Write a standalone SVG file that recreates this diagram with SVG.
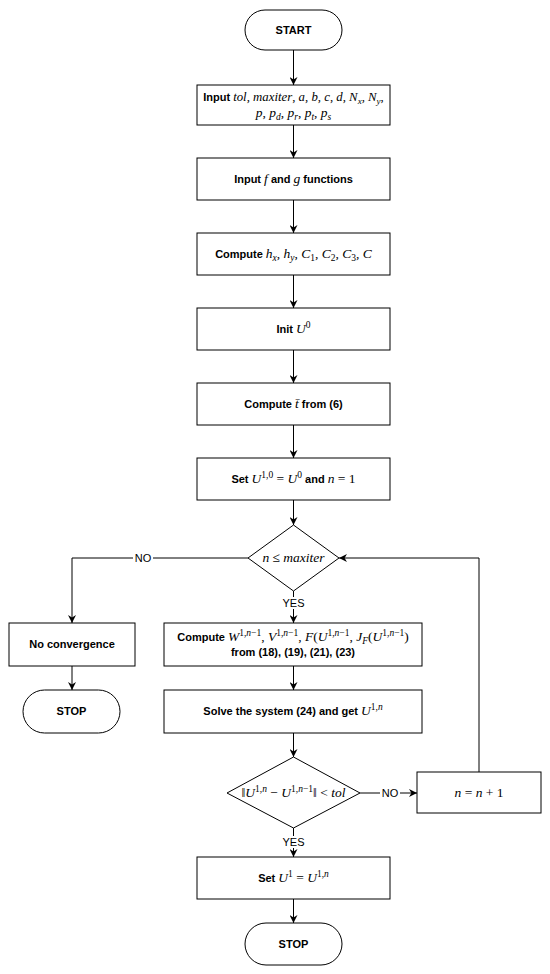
<svg xmlns="http://www.w3.org/2000/svg" width="550" height="974" viewBox="0 0 550 974">
<style>
.shape { fill: #fff; stroke: #000; stroke-width: 1; }
.edge { fill: none; stroke: #000; stroke-width: 1; }
.b { font-family: "Liberation Sans", Arial, sans-serif; font-weight: bold; font-size: 11px; fill: #000; text-anchor: middle; }
.lbl { font-family: "Liberation Sans", Arial, sans-serif; font-size: 11px; fill: #000; text-anchor: middle; }
.mi { font-family: "Liberation Serif", "Times New Roman", serif; font-style: italic; font-weight: normal; font-size: 13.5px; }
.mn { font-family: "Liberation Serif", "Times New Roman", serif; font-style: normal; font-weight: normal; font-size: 13.5px; }
.sc { font-size: 9.5px; }
.sm .mi, .sm .mn { font-size: 12.8px; }
.sm .sc { font-size: 9px; }
</style>
<defs>
<marker id="arr" viewBox="0 0 10 10" refX="10" refY="5" markerWidth="8" markerHeight="8" markerUnits="userSpaceOnUse" orient="auto">
<path d="M0,0 L10,5 L0,10 L3,5 z" fill="#000"/>
</marker>
</defs>

<g id="edges">
<path class="edge" d="M293.5,50 V85" marker-end="url(#arr)"/>
<path class="edge" d="M293.5,125 V158" marker-end="url(#arr)"/>
<path class="edge" d="M293.5,200 V233" marker-end="url(#arr)"/>
<path class="edge" d="M293.5,275 V308" marker-end="url(#arr)"/>
<path class="edge" d="M293.5,350 V383" marker-end="url(#arr)"/>
<path class="edge" d="M293.5,425 V458" marker-end="url(#arr)"/>
<path class="edge" d="M293.5,500 V525" marker-end="url(#arr)"/>
<path class="edge" d="M248,558 H72 V623" marker-end="url(#arr)"/>
<path class="edge" d="M293.5,591 V623" marker-end="url(#arr)"/>
<path class="edge" d="M72,666 V690" marker-end="url(#arr)"/>
<path class="edge" d="M293.5,666 V690" marker-end="url(#arr)"/>
<path class="edge" d="M293.5,733 V757" marker-end="url(#arr)"/>
<path class="edge" d="M360,793 H417" marker-end="url(#arr)"/>
<path class="edge" d="M293.5,828 V857" marker-end="url(#arr)"/>
<path class="edge" d="M293.5,899 V923" marker-end="url(#arr)"/>
<path class="edge" d="M479,772 V558 H339" marker-end="url(#arr)"/>
<rect x="133" y="552" width="20" height="12" fill="#fff"/>
<text class="lbl" x="143" y="562">NO</text>
<rect x="283" y="597" width="21" height="12" fill="#fff"/>
<text class="lbl" x="293.5" y="607">YES</text>
<rect x="380" y="787" width="20" height="12" fill="#fff"/>
<text class="lbl" x="390" y="797">NO</text>
<rect x="283" y="836" width="21" height="12" fill="#fff"/>
<text class="lbl" x="293.5" y="846">YES</text>
</g>

<g id="start">
<rect class="shape" x="245" y="10" width="97" height="40" rx="20" ry="20"/>
<text class="b" x="293.5" y="34">START</text>
</g>

<g id="input-params">
<rect class="shape" x="197" y="85" width="193" height="40"/>
<text class="b sm" x="293.5" y="101">Input <tspan class="mi">tol</tspan><tspan class="mn">, </tspan><tspan class="mi">maxiter</tspan><tspan class="mn">, </tspan><tspan class="mi">a</tspan><tspan class="mn">, </tspan><tspan class="mi">b</tspan><tspan class="mn">, </tspan><tspan class="mi">c</tspan><tspan class="mn">, </tspan><tspan class="mi">d</tspan><tspan class="mn">, </tspan><tspan class="mi">N</tspan><tspan class="mi sc" dy="3">x</tspan><tspan class="mn" dy="-3">, </tspan><tspan class="mi">N</tspan><tspan class="mi sc" dy="3">y</tspan><tspan class="mn" dy="-3">,</tspan></text>
<text class="b" x="293.5" y="117"><tspan class="mi">p</tspan><tspan class="mn">, </tspan><tspan class="mi">p</tspan><tspan class="mi sc" dy="3">d</tspan><tspan class="mn" dy="-3">, </tspan><tspan class="mi">p</tspan><tspan class="mi sc" dy="3">r</tspan><tspan class="mn" dy="-3">, </tspan><tspan class="mi">p</tspan><tspan class="mi sc" dy="3">t</tspan><tspan class="mn" dy="-3">, </tspan><tspan class="mi">p</tspan><tspan class="mi sc" dy="3">s</tspan></text>
</g>

<g id="input-functions">
<rect class="shape" x="197" y="158" width="193" height="42"/>
<text class="b" x="293.5" y="183">Input  <tspan class="mi">f</tspan> and <tspan class="mi">g</tspan> functions</text>
</g>

<g id="compute-h">
<rect class="shape" x="197" y="233" width="193" height="42"/>
<text class="b" x="293.5" y="258">Compute <tspan class="mi">h</tspan><tspan class="mi sc" dy="3">x</tspan><tspan class="mn" dy="-3">, </tspan><tspan class="mi">h</tspan><tspan class="mi sc" dy="3">y</tspan><tspan class="mn" dy="-3">, </tspan><tspan class="mi">C</tspan><tspan class="mn sc" dy="3">1</tspan><tspan class="mn" dy="-3">, </tspan><tspan class="mi">C</tspan><tspan class="mn sc" dy="3">2</tspan><tspan class="mn" dy="-3">, </tspan><tspan class="mi">C</tspan><tspan class="mn sc" dy="3">3</tspan><tspan class="mn" dy="-3">, </tspan><tspan class="mi">C</tspan></text>
</g>

<g id="init-u0">
<rect class="shape" x="197" y="308" width="193" height="42"/>
<text class="b" x="293.5" y="333">Init <tspan class="mi">U</tspan><tspan class="mn sc" dy="-5">0</tspan></text>
</g>

<g id="compute-t">
<rect class="shape" x="197" y="383" width="193" height="42"/>
<text class="b" x="293.5" y="408">Compute <tspan class="mi">t̄</tspan> from (6)</text>
</g>

<g id="set-u10">
<rect class="shape" x="197" y="458" width="193" height="42"/>
<text class="b" x="293.5" y="483">Set <tspan class="mi">U</tspan><tspan class="mn sc" dy="-5">1,0</tspan><tspan class="mn" dy="5"> = </tspan><tspan class="mi">U</tspan><tspan class="mn sc" dy="-5">0</tspan><tspan dy="5"> and </tspan><tspan class="mi">n</tspan><tspan class="mn"> = 1</tspan></text>
</g>

<g id="check-maxiter">
<polygon class="shape" points="293.5,525 339,558 293.5,591 248,558"/>
<text class="b" x="293.5" y="562"><tspan class="mi">n</tspan><tspan class="mn"> ≤ </tspan><tspan class="mi">maxiter</tspan></text>
</g>

<g id="no-convergence">
<rect class="shape" x="9" y="623" width="126" height="43"/>
<text class="b" x="72" y="648">No convergence</text>
</g>

<g id="stop-left">
<rect class="shape" x="23" y="690" width="97" height="43" rx="21.5" ry="21.5"/>
<text class="b" x="71.5" y="715">STOP</text>
</g>

<g id="compute-w">
<rect class="shape" x="164" y="623" width="258" height="43"/>
<text class="b" x="293" y="641">Compute <tspan class="mi">W</tspan><tspan class="mn sc" dy="-5">1,</tspan><tspan class="mi sc">n</tspan><tspan class="mn sc">−1</tspan><tspan class="mn" dy="5">, </tspan><tspan class="mi">V</tspan><tspan class="mn sc" dy="-5">1,</tspan><tspan class="mi sc">n</tspan><tspan class="mn sc">−1</tspan><tspan class="mn" dy="5">, </tspan><tspan class="mi">F</tspan><tspan class="mn">(</tspan><tspan class="mi">U</tspan><tspan class="mn sc" dy="-5">1,</tspan><tspan class="mi sc">n</tspan><tspan class="mn sc">−1</tspan><tspan class="mn" dy="5">, </tspan><tspan class="mi">J</tspan><tspan class="mi sc" dy="3">F</tspan><tspan class="mn" dy="-3">(</tspan><tspan class="mi">U</tspan><tspan class="mn sc" dy="-5">1,</tspan><tspan class="mi sc">n</tspan><tspan class="mn sc">−1</tspan><tspan class="mn" dy="5">)</tspan></text>
<text class="b" x="293" y="656">from (18), (19), (21), (23)</text>
</g>

<g id="solve">
<rect class="shape" x="164" y="690" width="258" height="43"/>
<text class="b" x="293" y="715">Solve the system (24) and get <tspan class="mi">U</tspan><tspan class="mn sc" dy="-5">1,</tspan><tspan class="mi sc">n</tspan></text>
</g>

<g id="check-tol">
<polygon class="shape" points="293.5,757 360,793 293.5,828 227,793"/>
<text class="b" x="293.5" y="797"><tspan class="mn">‖</tspan><tspan class="mi">U</tspan><tspan class="mn sc" dy="-5">1,</tspan><tspan class="mi sc">n</tspan><tspan class="mn" dy="5"> − </tspan><tspan class="mi">U</tspan><tspan class="mn sc" dy="-5">1,</tspan><tspan class="mi sc">n</tspan><tspan class="mn sc">−1</tspan><tspan class="mn" dy="5">‖ &lt; </tspan><tspan class="mi">tol</tspan></text>
</g>

<g id="increment">
<rect class="shape" x="417" y="772" width="124" height="41"/>
<text class="b" x="479" y="797"><tspan class="mi">n</tspan><tspan class="mn"> = </tspan><tspan class="mi">n</tspan><tspan class="mn"> + 1</tspan></text>
</g>

<g id="set-u1">
<rect class="shape" x="197" y="857" width="193" height="42"/>
<text class="b" x="293.5" y="882">Set <tspan class="mi">U</tspan><tspan class="mn sc" dy="-5">1</tspan><tspan class="mn" dy="5"> = </tspan><tspan class="mi">U</tspan><tspan class="mn sc" dy="-5">1,</tspan><tspan class="mi sc">n</tspan></text>
</g>

<g id="stop-bottom">
<rect class="shape" x="245" y="923" width="97" height="42" rx="21" ry="21"/>
<text class="b" x="293.5" y="948">STOP</text>
</g>
</svg>
